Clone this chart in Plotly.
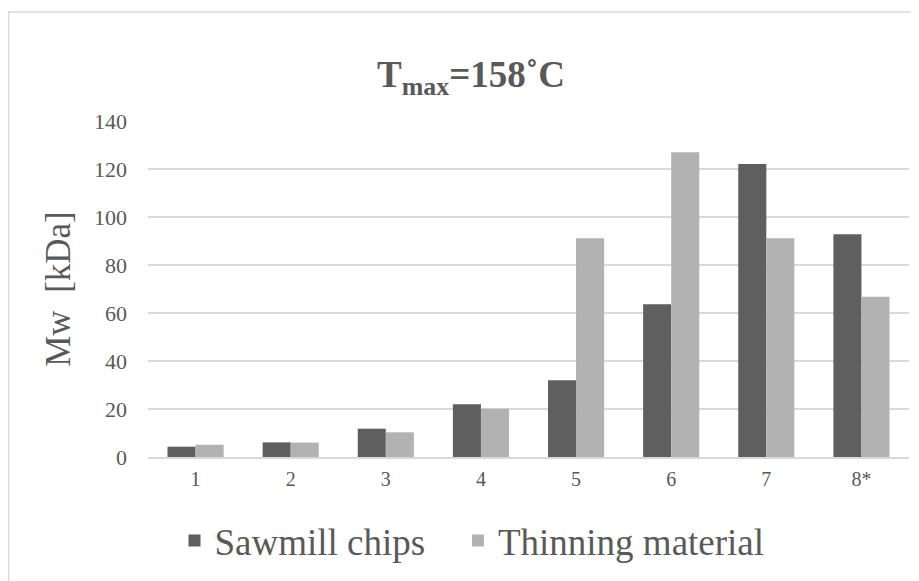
import plotly.graph_objects as go

categories = ["1", "2", "3", "4", "5", "6", "7", "8*"]
sawmill_chips = [4.3, 6.1, 11.8, 22.0, 32.0, 63.6, 122.1, 92.8]
thinning_material = [5.1, 6.0, 10.3, 20.1, 91.1, 127.0, 91.1, 66.8]
y_ticks = [0, 20, 40, 60, 80, 100, 120, 140]

FONT = "Liberation Serif"
TXT = "#595959"

# page body has an 8px margin, so figure coordinates are page coordinates minus 8
W, H = 911, 573
L, R, T, B = 140, 10, 113, 124
pw, ph = W - L - R, H - T - B

fig = go.Figure()
fig.add_trace(go.Bar(x=categories, y=sawmill_chips, name="Sawmill chips\u00a0\u00a0\u00a0",
                     marker=dict(color="#5f5f5f", line=dict(width=0))))
fig.add_trace(go.Bar(x=categories, y=thinning_material, name="Thinning material",
                     marker=dict(color="#b2b2b2", line=dict(width=0))))

# outer chart border (left/top visible in the reference)
x0 = (0.5 - L) / pw
x1 = (W + 10 - L) / pw
y1 = 1 + (T - 4) / ph
y0 = -(B + 20) / ph
fig.add_shape(type="rect", xref="paper", yref="paper", x0=x0, x1=x1, y0=y0, y1=y1,
              line=dict(color="#d9d9d9", width=1.5), fillcolor="rgba(0,0,0,0)", layer="below")

fig.update_layout(
    width=W, height=H,
    margin=dict(l=L, r=R, t=T, b=B, pad=0, autoexpand=False),
    paper_bgcolor="white", plot_bgcolor="white",
    barmode="group", bargap=0.41, bargroupgap=0,
    title=dict(text="<b>T<sub>max</sub>=158˚C</b>", x=(471 - 8) / W, xanchor="center",
               y=1 - 66 / H, yanchor="middle", yref="container",
               font=dict(family=FONT, size=37, color=TXT)),
    showlegend=True,
    legend=dict(orientation="h", x=(472 - 8) / W, xanchor="center",
                xref="container", y=1 - 533 / H, yref="container", yanchor="middle",
                font=dict(family=FONT, size=37, color=TXT),
                itemsizing="constant", bgcolor="rgba(0,0,0,0)"),
    xaxis=dict(showgrid=False, showline=True, linecolor="#d9d9d9", linewidth=1.5,
               ticks="", tickfont=dict(family=FONT, size=20, color=TXT),
               ticklabelstandoff=3, zeroline=False, automargin=False),
    yaxis=dict(range=[0, 140], tickvals=y_ticks, showgrid=True, gridcolor="#d9d9d9",
               gridwidth=1.5, zeroline=False, showline=False, ticks="",
               tickfont=dict(family=FONT, size=22, color=TXT), ticklabelstandoff=20,
               automargin=False,
               title=dict(text="Mw  [kDa]", font=dict(family=FONT, size=35, color=TXT),
                          standoff=12)),
)

fig.write_html("out.html")
